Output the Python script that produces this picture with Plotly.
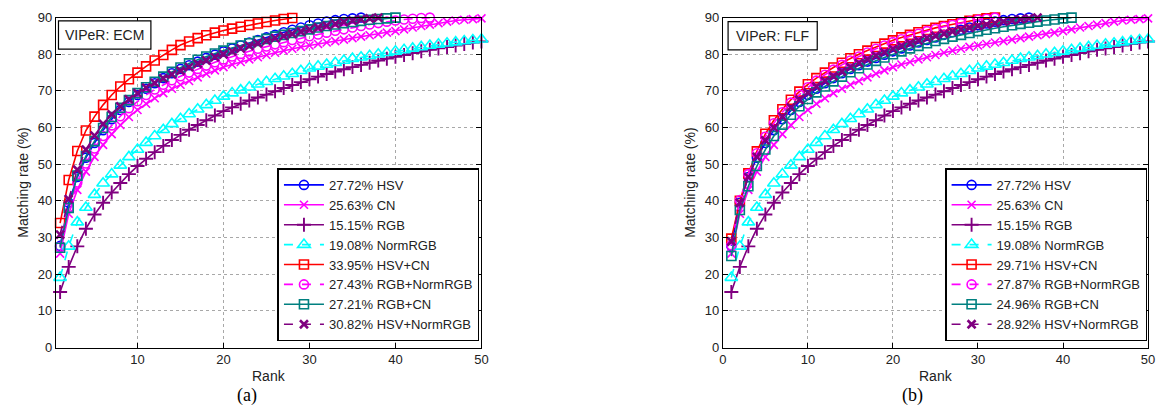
import plotly.graph_objects as go

ranks = list(range(1, 51))

# single-feature curves (identical in both panels)
hsv = [27.72, 39.5, 46.5, 51.8, 55.8, 59.3, 62.3, 64.8, 67.0, 68.9, 70.6, 72.1, 73.5, 74.8, 76.0, 77.0,
       78.0, 79.0, 79.9, 80.8, 81.6, 82.4, 83.2, 83.9, 84.6, 85.3, 86.0, 86.7, 87.3, 87.9, 88.4, 88.9,
       89.3, 89.6, 89.8, 90.0]
cn = [25.63, 36.5, 43.0, 48.0, 52.0, 55.3, 58.2, 60.7, 62.9, 64.8, 66.5, 68.0, 69.4, 70.6, 71.7, 72.7,
      73.7, 74.7, 75.6, 76.5, 77.2, 77.9, 78.6, 79.2, 79.8, 80.4, 81.0, 81.5, 82.0, 82.4, 82.8, 83.2,
      83.6, 84.0, 84.4, 84.8, 85.2, 85.5, 85.9, 86.3, 86.8, 87.3, 87.7, 88.1, 88.5, 88.9, 89.2, 89.4,
      89.6, 89.8]
rgb = [15.15, 22.0, 27.6, 32.4, 36.3, 39.5, 42.3, 44.9, 47.3, 49.5, 51.5, 53.3, 55.0, 56.6, 58.0, 59.4,
       60.7, 62.0, 63.3, 64.5, 65.5, 66.5, 67.4, 68.2, 69.0, 69.9, 70.8, 71.6, 72.4, 73.2, 73.9, 74.6,
       75.3, 75.9, 76.5, 77.1, 77.7, 78.3, 78.8, 79.3, 79.8, 80.3, 80.8, 81.2, 81.6, 82.0, 82.4, 82.8,
       83.2, 83.5]
normrgb = [19.08, 27.6, 34.2, 38.2, 41.7, 44.8, 47.3, 49.7, 52.0, 54.0, 55.9, 57.7, 59.4, 61.0, 62.4,
           63.7, 65.0, 66.2, 67.4, 68.5, 69.4, 70.2, 71.0, 71.8, 72.5, 73.3, 74.0, 74.7, 75.5, 76.2,
           76.7, 77.2, 77.7, 78.3, 78.8, 79.2, 79.6, 80.0, 80.4, 80.8, 81.2, 81.6, 82.0, 82.4, 82.7,
           83.0, 83.3, 83.6, 83.9, 84.1]

# ECM fusion curves
ecm_hsv_cn = [33.95, 45.7, 53.6, 59.2, 63.0, 66.2, 68.9, 71.2, 73.2, 75.0, 76.7, 78.3, 79.8, 81.2, 82.5,
              83.5, 84.4, 85.2, 85.9, 86.5, 87.0, 87.5, 88.0, 88.4, 88.8, 89.2, 89.6, 89.9]
ecm_rgb_normrgb = [27.43, 38.0, 45.0, 50.2, 54.3, 57.7, 60.6, 63.1, 65.3, 67.2, 68.9, 70.4, 71.7, 72.9,
                   74.0, 75.0, 76.0, 76.9, 77.8, 78.6, 79.4, 80.1, 80.8, 81.5, 82.1, 82.7, 83.3, 83.9,
                   84.4, 84.9, 85.4, 85.9, 86.4, 86.8, 87.3, 87.7, 88.1, 88.5, 88.9, 89.2, 89.5, 89.7,
                   89.9, 90.0]
ecm_rgb_cn = [27.21, 38.1, 46.9, 52.2, 56.3, 59.9, 62.9, 65.4, 67.5, 69.4, 71.0, 72.5, 73.9, 75.2, 76.4,
              77.5, 78.5, 79.4, 80.2, 81.0, 81.7, 82.4, 83.0, 83.6, 84.2, 84.8, 85.3, 85.8, 86.3, 86.8,
              87.3, 87.7, 88.1, 88.5, 88.8, 89.1, 89.4, 89.6, 89.8, 90.0]
ecm_hsv_normrgb = [30.82, 40.5, 48.5, 54.0, 57.8, 61.0, 63.6, 65.8, 67.7, 69.4, 70.9, 72.2, 73.4, 74.5,
                   75.5, 76.5, 77.4, 78.3, 79.2, 80.0, 80.8, 81.6, 82.3, 83.0, 83.7, 84.4, 85.0, 85.6,
                   86.2, 86.8, 87.3, 87.8, 88.3, 88.8, 89.2, 89.5, 89.8, 90.0]

# FLF fusion curves
flf_hsv_cn = [29.71, 40.0, 47.5, 53.5, 58.3, 62.0, 65.0, 67.6, 69.8, 71.8, 73.5, 75.0, 76.4, 77.7, 78.9,
              80.0, 81.0, 82.0, 82.9, 83.8, 84.6, 85.3, 86.0, 86.6, 87.2, 87.7, 88.2, 88.7, 89.1, 89.5,
              89.8, 90.0]
flf_rgb_normrgb = [27.87, 40.2, 47.3, 53.0, 57.5, 61.2, 64.2, 66.8, 69.0, 71.0, 72.8, 74.4, 75.8, 77.1,
                   78.3, 79.4, 80.5, 81.5, 82.4, 83.3, 84.1, 84.9, 85.6, 86.3, 86.9, 87.5, 88.0, 88.5,
                   89.0, 89.4, 89.7, 90.0]
flf_rgb_cn = [24.96, 37.5, 44.0, 49.5, 54.0, 57.7, 60.8, 63.5, 65.8, 67.8, 69.6, 71.2, 72.6, 73.9, 75.1,
              76.2, 77.2, 78.2, 79.1, 80.0, 80.8, 81.6, 82.3, 83.0, 83.6, 84.2, 84.8, 85.3, 85.8, 86.3,
              86.7, 87.1, 87.5, 87.9, 88.3, 88.6, 88.9, 89.2, 89.5, 89.8, 90.0]
flf_hsv_normrgb = [28.92, 39.5, 46.5, 52.0, 56.5, 60.0, 63.0, 65.5, 67.6, 69.5, 71.2, 72.7, 74.0, 75.3,
                   76.5, 77.6, 78.6, 79.6, 80.5, 81.4, 82.2, 83.0, 83.7, 84.4, 85.0, 85.6, 86.2, 86.7,
                   87.2, 87.7, 88.1, 88.5, 88.9, 89.2, 89.5, 89.8, 90.0]

names = ["HSV", "CN", "RGB", "NormRGB", "HSV+CN", "RGB+NormRGB", "RGB+CN", "HSV+NormRGB"]
ecm_rank1 = ["27.72%", "25.63%", "15.15%", "19.08%", "33.95%", "27.43%", "27.21%", "30.82%"]
flf_rank1 = ["27.72%", "25.63%", "15.15%", "19.08%", "29.71%", "27.87%", "24.96%", "28.92%"]

ecm_series = [hsv, cn, rgb, normrgb, ecm_hsv_cn, ecm_rgb_normrgb, ecm_rgb_cn, ecm_hsv_normrgb]
flf_series = [hsv, cn, rgb, normrgb, flf_hsv_cn, flf_rgb_normrgb, flf_rgb_cn, flf_hsv_normrgb]

styles = [
    dict(color="#0000FF", dash="solid", symbol="circle-open", size=9, mw=1.6),
    dict(color="#FF00FF", dash="solid", symbol="x-thin-open", size=8, mw=1.6),
    dict(color="#800080", dash="solid", symbol="cross-thin-open", size=10, mw=1.9),
    dict(color="#00FFFF", dash="dash", symbol="triangle-up-open", size=11, mw=1.6),
    dict(color="#FF0000", dash="solid", symbol="square-open", size=9, mw=1.6),
    dict(color="#FF00FF", dash="dash", symbol="circle-open", size=9, mw=1.6),
    dict(color="#008080", dash="solid", symbol="square-open", size=9, mw=1.6),
    dict(color="#800080", dash="dash", symbol="x-thin-open", size=8, mw=2.6),
]

fig = go.Figure()

for panel, (series, labels, xa, ya, lg) in enumerate([
        (ecm_series, ecm_rank1, "x", "y", "legend"),
        (flf_series, flf_rank1, "x2", "y2", "legend2")]):
    for vals, lab, name, st in zip(series, labels, names, styles):
        fig.add_trace(go.Scatter(
            x=ranks[:len(vals)], y=vals, mode="lines+markers",
            name=f"{lab} {name}", xaxis=xa, yaxis=ya, legend=lg,
            cliponaxis=False,
            line=dict(color=st["color"], width=1.6, dash=st["dash"]),
            marker=dict(symbol=st["symbol"], size=st["size"], color=st["color"],
                        line=dict(color=st["color"], width=st["mw"])),
        ))

W, H = 1163, 415
def px(x):
    return x / W
def py(y):
    return 1 - y / H

font_fam = "Liberation Sans, Arial, Helvetica, sans-serif"
axis_common = dict(
    showgrid=True, gridcolor="#a8a8a8", griddash="dot", gridwidth=1,
    showline=True, linecolor="black", linewidth=1, mirror="ticks",
    ticks="inside", ticklen=5, tickcolor="black", zeroline=False,
    tickfont=dict(family=font_fam, size=13, color="#222222"),
)

y_dom = [py(353.3), py(11)]
fig.update_layout(
    width=W, height=H,
    margin=dict(l=0, r=0, t=0, b=0),
    paper_bgcolor="white", plot_bgcolor="white",
    font=dict(family=font_fam, size=13, color="#222222"),
    xaxis=dict(domain=[px(52.3), px(482)], range=[0.5, 50], tickvals=[10, 20, 30, 40, 50],
               anchor="y", **axis_common),
    yaxis=dict(domain=y_dom, range=[0, 90], dtick=10, anchor="x", **axis_common),
    xaxis2=dict(domain=[px(725.7), px(1155)], range=[0, 50], tickvals=[0, 10, 20, 30, 40, 50],
                anchor="y2", **axis_common),
    yaxis2=dict(domain=y_dom, range=[0, 90], dtick=10, anchor="x2", **axis_common),
    legend=dict(x=px(480), xanchor="right", y=py(347), yanchor="bottom",
                bordercolor="black", borderwidth=1.5, bgcolor="white",
                font=dict(family=font_fam, size=13, color="#222222"),
                itemwidth=40, tracegroupgap=0),
    legend2=dict(x=px(1154), xanchor="right", y=py(347), yanchor="bottom",
                 bordercolor="black", borderwidth=1.5, bgcolor="white",
                 font=dict(family=font_fam, size=13, color="#222222"),
                 itemwidth=40, tracegroupgap=0),
    showlegend=True,
)

annotations = [
    dict(text="Rank", x=px(268), y=py(382.5), xref="paper", yref="paper", showarrow=False,
         xanchor="center", yanchor="middle", font=dict(size=14)),
    dict(text="Rank", x=px(941), y=py(382.5), xref="paper", yref="paper", showarrow=False,
         xanchor="center", yanchor="middle", font=dict(size=14)),
    dict(text="Matching rate (%)", x=px(19.5), y=py(182), xref="paper", yref="paper",
         showarrow=False, textangle=-90, xanchor="center", yanchor="middle", font=dict(size=14)),
    dict(text="Matching rate (%)", x=px(693), y=py(182), xref="paper", yref="paper",
         showarrow=False, textangle=-90, xanchor="center", yanchor="middle", font=dict(size=14)),
    dict(text="(a)", x=px(245), y=py(403), xref="paper", yref="paper", showarrow=False,
         xanchor="center", yanchor="middle",
         font=dict(family="Liberation Serif, Times New Roman, serif", size=18, color="black")),
    dict(text="(b)", x=px(917.5), y=py(403), xref="paper", yref="paper", showarrow=False,
         xanchor="center", yanchor="middle",
         font=dict(family="Liberation Serif, Times New Roman, serif", size=18, color="black")),
    dict(text="VIPeR: ECM", x=px(101.5), y=py(29.5), xref="paper", yref="paper", showarrow=False,
         xanchor="center", yanchor="middle", font=dict(size=14)),
    dict(text="VIPeR: FLF", x=px(776), y=py(30), xref="paper", yref="paper", showarrow=False,
         xanchor="center", yanchor="middle", font=dict(size=14)),
]
fig.update_layout(annotations=annotations)

shapes = [
    dict(type="rect", xref="paper", yref="paper", x0=px(55), x1=px(148.3), y0=py(43.7), y1=py(14.3),
         line=dict(color="black", width=1.2), fillcolor="white", layer="above"),
    dict(type="rect", xref="paper", yref="paper", x0=px(731), x1=px(821), y0=py(44.5), y1=py(15.2),
         line=dict(color="black", width=1.2), fillcolor="white", layer="above"),
]
fig.update_layout(shapes=shapes)

fig.write_html("out.html", config={"displayModeBar": False},
               post_script="document.body.style.margin='0';document.body.style.overflow='hidden';")
